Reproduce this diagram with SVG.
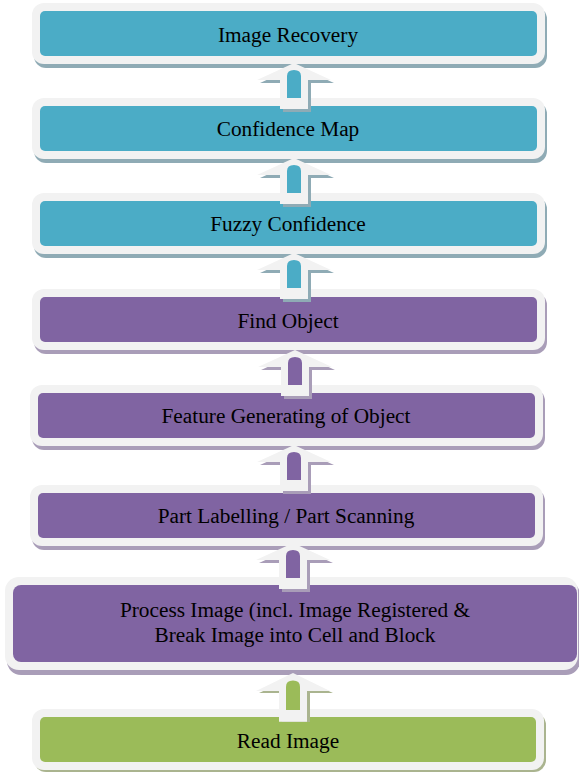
<svg xmlns="http://www.w3.org/2000/svg" width="579" height="773" viewBox="0 0 579 773">
<defs>
<style>
.o{fill:#F2F2F2}
.t{font-family:"Liberation Serif","Times New Roman",serif;font-size:21.3px;fill:#000;text-anchor:middle}
.b{fill:#4BACC6}.bs{fill:#8FABB5}
.p{fill:#8064A2}.ps{fill:#A99DB8}
.g{fill:#9BBB59}.gs{fill:#AAB48F}
.aw{fill:#F2F2F2}
</style>
<path id="arr" d="M0,0 L37,17 L14,17 L14,46 L-14,46 L-14,17 L-37,17 Z"/>
<path id="sh" d="M-7,35 V13 Q-7,7 0,7 Q7,7 7,13 V35 Z"/>
</defs>
<rect width="579" height="773" fill="#fff"/>
<g id="n1"><rect class="bs" x="34" y="7" width="513" height="61" rx="12"/><rect class="o" x="32" y="3" width="513" height="61" rx="12"/><rect class="b" x="40" y="11" width="497" height="45" rx="5"/><text class="t" x="288" y="42">Image Recovery</text></g>
<g id="n2"><rect class="bs" x="34" y="102" width="513" height="61" rx="12"/><rect class="o" x="32" y="98" width="513" height="61" rx="12"/><rect class="b" x="40" y="106" width="497" height="45" rx="5"/><text class="t" x="288" y="136">Confidence Map</text></g>
<g id="n3"><rect class="bs" x="34" y="197" width="513" height="61" rx="12"/><rect class="o" x="32" y="193" width="513" height="61" rx="12"/><rect class="b" x="40" y="201" width="497" height="45" rx="5"/><text class="t" x="288" y="231">Fuzzy Confidence</text></g>
<g id="n4"><rect class="ps" x="34" y="293" width="513" height="61" rx="12"/><rect class="o" x="32" y="289" width="513" height="61" rx="12"/><rect class="p" x="40" y="297" width="497" height="45" rx="5"/><text class="t" x="288" y="328">Find Object</text></g>
<g id="n5"><rect class="ps" x="32" y="389" width="513" height="61" rx="12"/><rect class="o" x="30" y="385" width="513" height="61" rx="12"/><rect class="p" x="38" y="393" width="497" height="45" rx="5"/><text class="t" x="286" y="423">Feature Generating of Object</text></g>
<g id="n6"><rect class="ps" x="32" y="489" width="513" height="61" rx="12"/><rect class="o" x="30" y="485" width="513" height="61" rx="12"/><rect class="p" x="38" y="493" width="497" height="45" rx="5"/><text class="t" x="286" y="523">Part Labelling / Part Scanning</text></g>
<g id="n7"><rect class="ps" x="7" y="581" width="573" height="94" rx="14"/><rect class="o" x="5" y="577" width="573" height="93" rx="14"/><rect class="p" x="13" y="585" width="564" height="77" rx="8"/><text class="t" x="295" y="617">Process Image (incl. Image Registered &amp;</text><text class="t" x="295" y="642">Break Image into Cell and Block</text></g>
<g id="n8"><rect class="gs" x="34" y="713" width="512" height="59" rx="12"/><rect class="o" x="32" y="709" width="512" height="61" rx="12"/><rect class="g" x="40" y="717" width="496" height="45" rx="5"/><text class="t" x="288" y="748">Read Image</text></g>
<g id="connectors">
<g transform="translate(294,63)"><use href="#arr" class="bs" x="3" y="3"/><use href="#arr" class="aw"/><use href="#sh" class="b"/></g>
<g transform="translate(294,158)"><use href="#arr" class="bs" x="3" y="3"/><use href="#arr" class="aw"/><use href="#sh" class="b"/></g>
<g transform="translate(294,253)"><use href="#arr" class="bs" x="3" y="3"/><use href="#arr" class="aw"/><use href="#sh" class="b"/></g>
<g transform="translate(295,350)"><use href="#arr" class="ps" x="3" y="3"/><use href="#arr" class="aw"/><use href="#sh" class="p"/></g>
<g transform="translate(294,445)"><use href="#arr" class="ps" x="3" y="3"/><use href="#arr" class="aw"/><use href="#sh" class="p"/></g>
<g transform="translate(293,543)"><use href="#arr" class="ps" x="3" y="3"/><use href="#arr" class="aw"/><use href="#sh" class="p"/></g>
<g transform="translate(293,673)"><use href="#arr" class="gs" x="3" y="3"/><use href="#arr" class="aw" transform="scale(1,1.06)"/><use href="#sh" class="g" transform="scale(1,1.06)"/></g>
</g>
</svg>
